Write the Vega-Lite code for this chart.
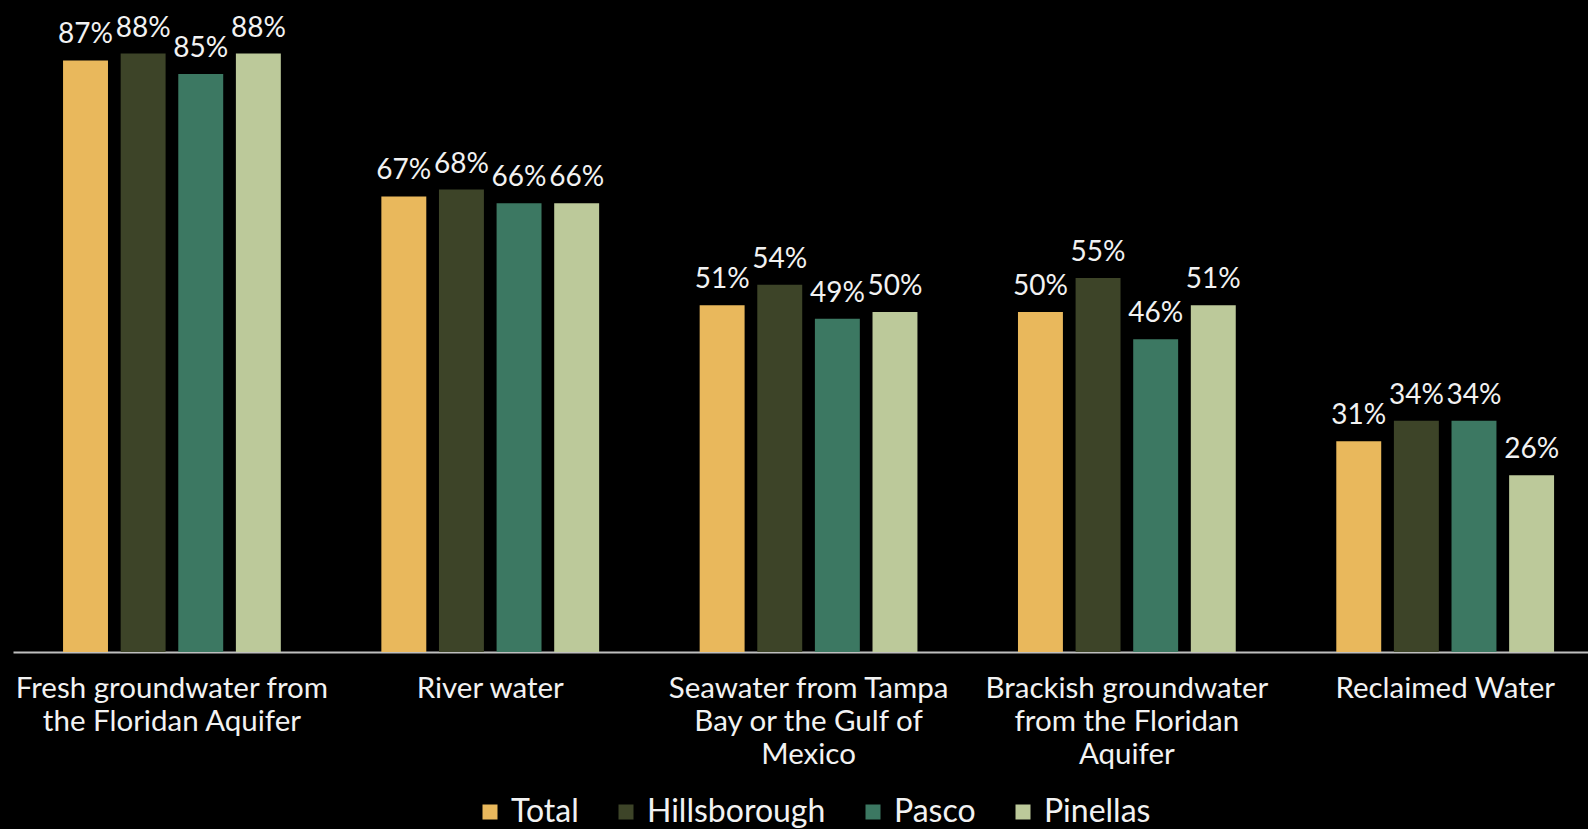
{
  "$schema": "https://vega.github.io/schema/vega-lite/v6.json",
  "width": 1575,
  "height": 612,
  "autosize": {"type": "none"},
  "padding": {"left": 13, "top": 40, "right": 0, "bottom": 177},
  "background": "#000000",
  "config": {
    "view": {"stroke": null},
    "font": "Lato",
    "text": {"font": "Lato"}
  },
  "data": {
    "values": [
      {"source": "Fresh groundwater from the Floridan Aquifer", "county": "Total", "value": 0.87},
      {"source": "Fresh groundwater from the Floridan Aquifer", "county": "Hillsborough", "value": 0.88},
      {"source": "Fresh groundwater from the Floridan Aquifer", "county": "Pasco", "value": 0.85},
      {"source": "Fresh groundwater from the Floridan Aquifer", "county": "Pinellas", "value": 0.88},
      {"source": "River water", "county": "Total", "value": 0.67},
      {"source": "River water", "county": "Hillsborough", "value": 0.68},
      {"source": "River water", "county": "Pasco", "value": 0.66},
      {"source": "River water", "county": "Pinellas", "value": 0.66},
      {"source": "Seawater from Tampa Bay or the Gulf of Mexico", "county": "Total", "value": 0.51},
      {"source": "Seawater from Tampa Bay or the Gulf of Mexico", "county": "Hillsborough", "value": 0.54},
      {"source": "Seawater from Tampa Bay or the Gulf of Mexico", "county": "Pasco", "value": 0.49},
      {"source": "Seawater from Tampa Bay or the Gulf of Mexico", "county": "Pinellas", "value": 0.50},
      {"source": "Brackish groundwater from the Floridan Aquifer", "county": "Total", "value": 0.50},
      {"source": "Brackish groundwater from the Floridan Aquifer", "county": "Hillsborough", "value": 0.55},
      {"source": "Brackish groundwater from the Floridan Aquifer", "county": "Pasco", "value": 0.46},
      {"source": "Brackish groundwater from the Floridan Aquifer", "county": "Pinellas", "value": 0.51},
      {"source": "Reclaimed Water", "county": "Total", "value": 0.31},
      {"source": "Reclaimed Water", "county": "Hillsborough", "value": 0.34},
      {"source": "Reclaimed Water", "county": "Pasco", "value": 0.34},
      {"source": "Reclaimed Water", "county": "Pinellas", "value": 0.26}
    ]
  },
  "encoding": {
    "x": {
      "field": "source",
      "type": "nominal",
      "sort": null,
      "scale": {"paddingInner": 0.276, "paddingOuter": 0.112, "align": 0.613},
      "axis": {
        "title": null,
        "labelAngle": 0,
        "labelFontSize": 29.5,
        "labelColor": "#F2F2F2",
        "labelFont": "Lato",
        "labelLineHeight": 33,
        "labelPadding": 22,
        "labelLimit": 0,
        "labelOverlap": false,
        "ticks": false,
        "domainColor": "#BFBFBF",
        "domainWidth": 2,
        "labelExpr": "datum.label == 'Fresh groundwater from the Floridan Aquifer' ? ['Fresh groundwater from', 'the Floridan Aquifer'] : datum.label == 'Seawater from Tampa Bay or the Gulf of Mexico' ? ['Seawater from Tampa', 'Bay or the Gulf of', 'Mexico'] : datum.label == 'Brackish groundwater from the Floridan Aquifer' ? ['Brackish groundwater', 'from the Floridan', 'Aquifer'] : datum.label"
      }
    },
    "xOffset": {
      "field": "county",
      "type": "nominal",
      "sort": ["Total", "Hillsborough", "Pasco", "Pinellas"],
      "scale": {"paddingInner": 0.22, "paddingOuter": 0.11}
    },
    "y": {
      "field": "value",
      "type": "quantitative",
      "scale": {"domain": [0, 0.9], "nice": false},
      "axis": null
    }
  },
  "layer": [
    {
      "mark": {"type": "bar"},
      "encoding": {
        "color": {
          "field": "county",
          "type": "nominal",
          "sort": ["Total", "Hillsborough", "Pasco", "Pinellas"],
          "scale": {
            "domain": ["Total", "Hillsborough", "Pasco", "Pinellas"],
            "range": ["#E9B85C", "#3D4428", "#3C7862", "#BCC99A"]
          },
          "legend": {
            "title": null,
            "orient": "none",
            "direction": "horizontal",
            "legendX": 461,
            "legendY": 756,
            "symbolType": "square",
            "symbolSize": 225,
            "symbolStrokeWidth": 0,
            "symbolOpacity": 1,
            "labelFontSize": 32,
            "labelFont": "Lato",
            "labelColor": "#F2F2F2",
            "labelOffset": 5,
            "columnPadding": 31,
            "labelLimit": 0
          }
        }
      }
    },
    {
      "mark": {"type": "text", "baseline": "alphabetic", "dy": -17, "fontSize": 28, "color": "#F2F2F2", "font": "Lato"},
      "encoding": {
        "text": {"field": "value", "type": "quantitative", "format": ".0%"}
      }
    }
  ]
}
